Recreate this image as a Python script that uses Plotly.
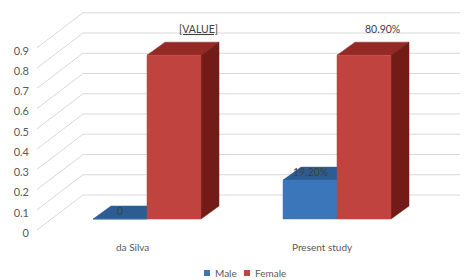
import plotly.graph_objects as go

# ---------------- data ----------------
categories = ["da Silva", "Present study"]
male = [0.0, 0.192]
female = [0.809, 0.809]
male_labels = ["0", "19.20%"]
female_labels = ["<u>[VALUE]</u>", "80.90%"]
y_ticks = [0, 0.1, 0.2, 0.3, 0.4, 0.5, 0.6, 0.7, 0.8, 0.9]
y_tick_labels = ["0", "0.1", "0.2", "0.3", "0.4", "0.5", "0.6", "0.7", "0.8", "0.9"]
series_names = ["Male", "Female"]

# ---------------- style / geometry ----------------
W_FIG, H_FIG = 466, 280
ML, MR, MT, MB = 30, 0, 0, 40
PX_X = 190.0       # pixels per category step
PX_Y = 202.5       # pixels per value unit
X0_PX = 147.0      # pixel of category 0 (front centre of the group)
Y0_PX = 219.0      # pixel of value 0 on the bar front plane

def xd(px):
    return (px - X0_PX) / PX_X

def yd(py):
    return (Y0_PX - py) / PX_Y

def xp(px):
    return (px - ML) / (W_FIG - ML - MR)

def yp(py):
    return (H_FIG - MB - py) / (H_FIG - MT - MB)

BW = 54 / PX_X          # bar width
DX = 18 / PX_X          # bar depth (x)
DY = 13 / PX_Y          # bar depth (y)
FX, FY = xd(37), -11 / PX_Y     # front edge of the left wall
WX, WY = xd(83), 24 / PX_Y      # back wall
RX = xd(460)                    # right end of the back wall

x_range = [xd(ML), xd(W_FIG - MR)]
y_range = [yd(H_FIG - MB), yd(MT)]
y_shift = 14 / PX_Y     # value labels sit on the front plane
x_shift_px = -15        # category labels sit on the front plane

colors = {
    "Male": {"front": "#3C76BA", "top": "#2B5D93", "side": "#24507F"},
    "Female": {"front": "#C0433F", "top": "#932A26", "side": "#731B17"},
}
GRID = "#D9D9D9"
TXT = "#595959"
LBL = "#404040"
FONT = "Lato, Carlito, Calibri, sans-serif"
female_label_xshift = [6, 0]

fig = go.Figure()

# gridlines: left wall diagonals + back wall horizontals
gx, gy = [], []
for v in y_ticks:
    gx += [FX, WX, RX, None]
    gy += [v + FY, v + WY, v + WY, None]
fig.add_trace(go.Scatter(x=gx, y=gy, mode="lines", line=dict(color=GRID, width=1),
                         hoverinfo="skip", showlegend=False))

# 3D bars as filled polygons
for s, (name, vals) in enumerate(zip(series_names, [male, female])):
    off = -BW if s == 0 else 0.0
    faces = {"top": ([], []), "side": ([], []), "front": ([], [])}
    for i, v in enumerate(vals):
        x0 = i + off
        tx, ty = faces["top"]
        tx += [x0, x0 + BW, x0 + BW + DX, x0 + DX, x0, None]
        ty += [v, v, v + DY, v + DY, v, None]
        sx, sy = faces["side"]
        sx += [x0 + BW, x0 + BW + DX, x0 + BW + DX, x0 + BW, x0 + BW, None]
        sy += [0, DY, v + DY, v, 0, None]
        fx, fy = faces["front"]
        fx += [x0, x0 + BW, x0 + BW, x0, x0, None]
        fy += [0, 0, v, v, 0, None]
    for face in ["top", "side", "front"]:
        xs, ys = faces[face]
        c = colors[name][face]
        fig.add_trace(go.Scatter(x=xs, y=ys, mode="lines", fill="toself", fillcolor=c,
                                 line=dict(color=c, width=0.5), name=name,
                                 hoverinfo="skip", showlegend=False))

# dummy trace for the front-plane value axis
fig.add_trace(go.Scatter(x=[None], y=[None], xaxis="x", yaxis="y2",
                         showlegend=False, hoverinfo="skip"))

ann = []
# category labels on the front plane
for i, c in enumerate(categories):
    ann.append(dict(x=i, y=yp(247), xref="x", yref="paper", text=c, showarrow=False,
                    xshift=x_shift_px, yanchor="middle",
                    font=dict(family=FONT, size=10, color=TXT)))
# data labels
for i, (v, t) in enumerate(zip(male, male_labels)):
    ann.append(dict(x=i - BW / 2, y=v + DY * 0.6, text=t, showarrow=False,
                    font=dict(family=FONT, size=10.5, color=LBL), xref="x", yref="y"))
for i, (v, t) in enumerate(zip(female, female_labels)):
    ann.append(dict(x=i + BW / 2 + DX, y=v + DY, text=t, showarrow=False, yshift=13,
                    xshift=female_label_xshift[i],
                    font=dict(family=FONT, size=10.5, color=LBL), xref="x", yref="y"))

# legend (drawn as square markers + text)
legend_items = [("Male", 204, 213), ("Female", 244, 253)]
shapes = []
for name, sq_px, tx_px in legend_items:
    shapes.append(dict(type="rect", xref="paper", yref="paper",
                       x0=xp(sq_px), x1=xp(sq_px + 6), y0=yp(276), y1=yp(270),
                       fillcolor=colors[name]["front"], line=dict(width=0)))
    ann.append(dict(x=xp(tx_px), y=yp(273), xref="paper", yref="paper",
                    xanchor="left", yanchor="middle", text=name, showarrow=False,
                    font=dict(family=FONT, size=10, color=TXT)))

fig.update_layout(
    width=W_FIG, height=H_FIG,
    margin=dict(l=ML, r=MR, t=MT, b=MB, pad=0),
    paper_bgcolor="white", plot_bgcolor="white",
    showlegend=False,
    xaxis=dict(range=x_range, visible=False, fixedrange=True),
    yaxis=dict(range=y_range, visible=False, fixedrange=True),
    yaxis2=dict(range=[y_range[0] + y_shift, y_range[1] + y_shift], overlaying="y",
                anchor="x", side="left", tickmode="array", tickvals=y_ticks,
                ticktext=y_tick_labels, showgrid=False, zeroline=False, showline=False, ticks="",
                fixedrange=True, tickfont=dict(family=FONT, size=11, color=TXT)),
    annotations=ann, shapes=shapes,
)

fig.write_html("out.html", config={"displayModeBar": False},
               post_script="document.body.style.margin='0';")
